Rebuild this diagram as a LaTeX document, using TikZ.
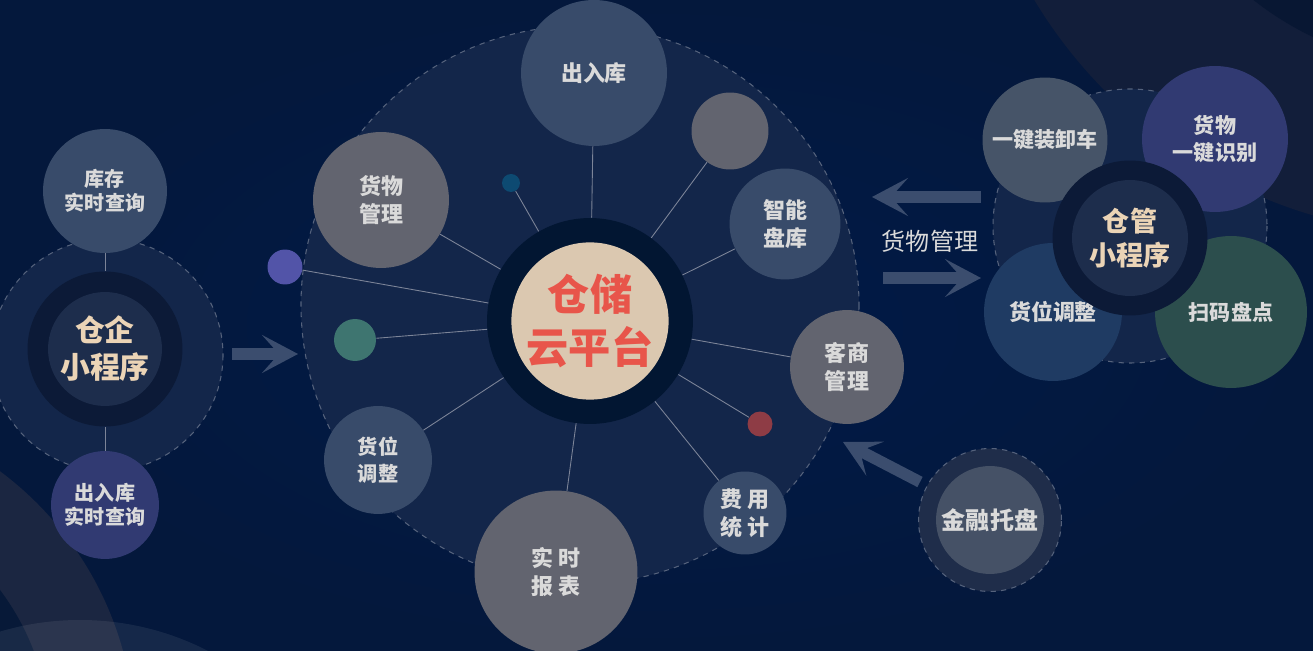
\documentclass[tikz,border=0pt]{standalone}
\usepackage{fontspec}
\setmainfont{Noto Sans CJK SC}
\usetikzlibrary{arrows.meta}

\definecolor{bgcore}{HTML}{001A48}
\definecolor{bgedge}{HTML}{04183C}
\definecolor{glowa}{HTML}{1B2641}
\definecolor{glowb}{HTML}{121E3A}
\definecolor{shadea}{HTML}{071938}
\definecolor{shadeb}{HTML}{081733}
\definecolor{discfill}{HTML}{13264A}
\definecolor{ringdark}{HTML}{021632}
\definecolor{ringmid}{HTML}{0C1A37}
\definecolor{hubfill}{HTML}{1D2D4C}
\definecolor{slate}{HTML}{384B6A}
\definecolor{greybub}{HTML}{62646F}
\definecolor{indigo}{HTML}{313A72}
\definecolor{steel}{HTML}{465468}
\definecolor{deepblue}{HTML}{1F3B63}
\definecolor{pine}{HTML}{2C4E4D}
\definecolor{beige}{HTML}{DBC8B0}
\definecolor{brick}{HTML}{E8554A}
\definecolor{cream}{HTML}{EBD4B6}
\definecolor{labgrey}{HTML}{DADADA}
\definecolor{spokegrey}{HTML}{7C8498}
\definecolor{arrowblue}{HTML}{3B4D6E}
\definecolor{dashgrey}{HTML}{55627C}
\definecolor{dotred}{HTML}{8E3C45}
\definecolor{dotteal}{HTML}{3E7570}
\definecolor{dotviolet}{HTML}{5254A8}
\definecolor{dotazure}{HTML}{0D4A72}
\definecolor{finring}{HTML}{1F2D4A}
\definecolor{finbub}{HTML}{455166}

\tikzset{
  bub/.style={circle, inner sep=0pt, minimum size=#1*0.04cm, align=center,
    text=labgrey, font=\bfseries\fontsize{12.5}{16}\selectfont},
  speck/.style={circle, inner sep=0pt, minimum size=#1*0.04cm},
  spokeline/.style={draw=spokegrey, line width=0.5pt},
  dashring/.style={draw=dashgrey, dashed, line width=0.6pt},
  bigarrow/.style={draw=arrowblue, line width=0.23cm,
    -{Stealth[length=0.72cm, width=0.76cm, inset=0.34cm]}},
}

\begin{document}
\begin{tikzpicture}[x=0.02cm, y=-0.02cm]
  \useasboundingbox (0,0) rectangle (1313,651);
  \path[inner color=bgcore, outer color=bgedge] (0,0) rectangle (1313,651);
  \begin{scope}
    \clip (0,0) rectangle (1313,651);
    \fill[glowa] (-200,740) circle (335);
    \fill[shadea] (-200,740) circle (250);
    \fill[white, opacity=0.07] (80,900) circle (280);
    \fill[glowb] (1450,-250) circle (485);
    \fill[shadeb] (1450,-250) circle (318);
  \end{scope}

  \draw[dashring, fill=discfill] (580,305) circle (279);

  \node[speck=103, fill=ringdark] (cent) at (590,321) {};
  \node[bub=78, fill=beige, text=brick, font=\bfseries\fontsize{24}{30}\selectfont] (centin) at (cent) {仓储\\云平台};

  \node[bub=73, fill=slate] (crk) at (594,73) {出入库};
  \node[speck=38.5, fill=greybub] (blank) at (730,131) {};
  \node[bub=55.5, fill=slate] (znpk) at (785,224) {智能\\盘库};
  \node[bub=57, fill=greybub] (ksgl) at (847,367) {客\hspace{1pt}商\\管\hspace{1pt}理};
  \node[speck=12.5, fill=dotred] (rdot) at (760,424) {};
  \node[bub=41.5, fill=slate] (fytj) at (745,513) {费\hspace{3pt}用\\统\hspace{3pt}计};
  \node[bub=81.5, fill=greybub] (ssbb) at (556,572) {实\hspace{3pt}时\\报\hspace{3pt}表};
  \node[bub=54, fill=slate, font=\bfseries\fontsize{11.5}{15}\selectfont] (hwtz) at (378,460) {货位\\调整};
  \node[speck=21, fill=dotteal] (tdot) at (355,340) {};
  \node[speck=17.5, fill=dotviolet] (pdot) at (285,267) {};
  \node[bub=68, fill=greybub] (hwgl) at (381,200) {货物\\管理};
  \node[speck=9, fill=dotazure] (bdot) at (511,183) {};

  \draw[spokeline] (cent) -- (crk);
  \draw[spokeline] (cent) -- (blank);
  \draw[spokeline] (cent) -- (znpk);
  \draw[spokeline] (cent) -- (ksgl);
  \draw[spokeline] (cent) -- (rdot);
  \draw[spokeline] (cent) -- (fytj);
  \draw[spokeline] (cent) -- (ssbb);
  \draw[spokeline] (cent) -- (hwtz);
  \draw[spokeline] (cent) -- (tdot);
  \draw[spokeline] (cent) -- (pdot);
  \draw[spokeline] (cent) -- (hwgl);
  \draw[spokeline] (cent) -- (bdot);

  \draw[dashring, fill=discfill] (107,355) circle (116);
  \node[bub=62, fill=slate, font=\bfseries\fontsize{11.4}{14}\selectfont] (kcss) at (105,191) {库存\\实时查询};
  \node[bub=54, fill=indigo, font=\bfseries\fontsize{11.4}{14}\selectfont] (crss) at (105,505) {出入库\\实时查询};
  \node[speck=77.5, fill=ringmid] (qq) at (105,349) {};
  \node[bub=57, fill=hubfill, text=cream, font=\bfseries\fontsize{17}{21}\selectfont] (qqin) at (qq) {仓企\\小程序};
  \draw[spokeline] (kcss) -- (qq);
  \draw[spokeline] (qq) -- (crss);

  \coordinate (qa) at (232,354);
  \coordinate (qb) at (298,354);
  \draw[bigarrow] (qa) -- (qb);

  \draw[dashring, fill=discfill] (1130,226) circle (137);
  \node[bub=62.5, fill=steel, font=\bfseries\fontsize{12}{15}\selectfont] (yjzx) at (1045,140) {一键装卸车};
  \node[bub=73, fill=indigo, font=\bfseries\fontsize{12}{15.4}\selectfont] (hwsb) at (1215,139) {货物\\一键识别};
  \node[bub=69, fill=deepblue] (hwtz2) at (1053,312) {货位调整};
  \node[bub=76, fill=pine, font=\bfseries\fontsize{12}{15}\selectfont] (smpd) at (1231,312) {扫码盘点};
  \node[speck=77.5, fill=ringmid] (cg) at (1130,238) {};
  \node[bub=58, fill=hubfill, text=cream, font=\bfseries\fontsize{15.4}{19}\selectfont] (cgin) at (cg) {仓管\\小程序};

  \coordinate (la) at (981,197);
  \coordinate (lb) at (872,197);
  \draw[bigarrow] (la) -- (lb);
  \node[text=labgrey, font=\fontsize{13.7}{16}\selectfont] (hwlab) at (930,241) {货物管理};
  \coordinate (ra) at (883,278);
  \coordinate (rb) at (981,278);
  \draw[bigarrow] (ra) -- (rb);

  \node[speck=71.5, fill=finring, draw=dashgrey, dashed, line width=0.6pt] (jr) at (990,520) {};
  \node[bub=54, fill=finbub, font=\bfseries\fontsize{13.7}{16}\selectfont] (jrin) at (jr) {金融托盘};
  \coordinate (ja) at (920,482);
  \coordinate (jb) at (843,442);
  \draw[bigarrow] (ja) -- (jb);
\end{tikzpicture}
\end{document}
